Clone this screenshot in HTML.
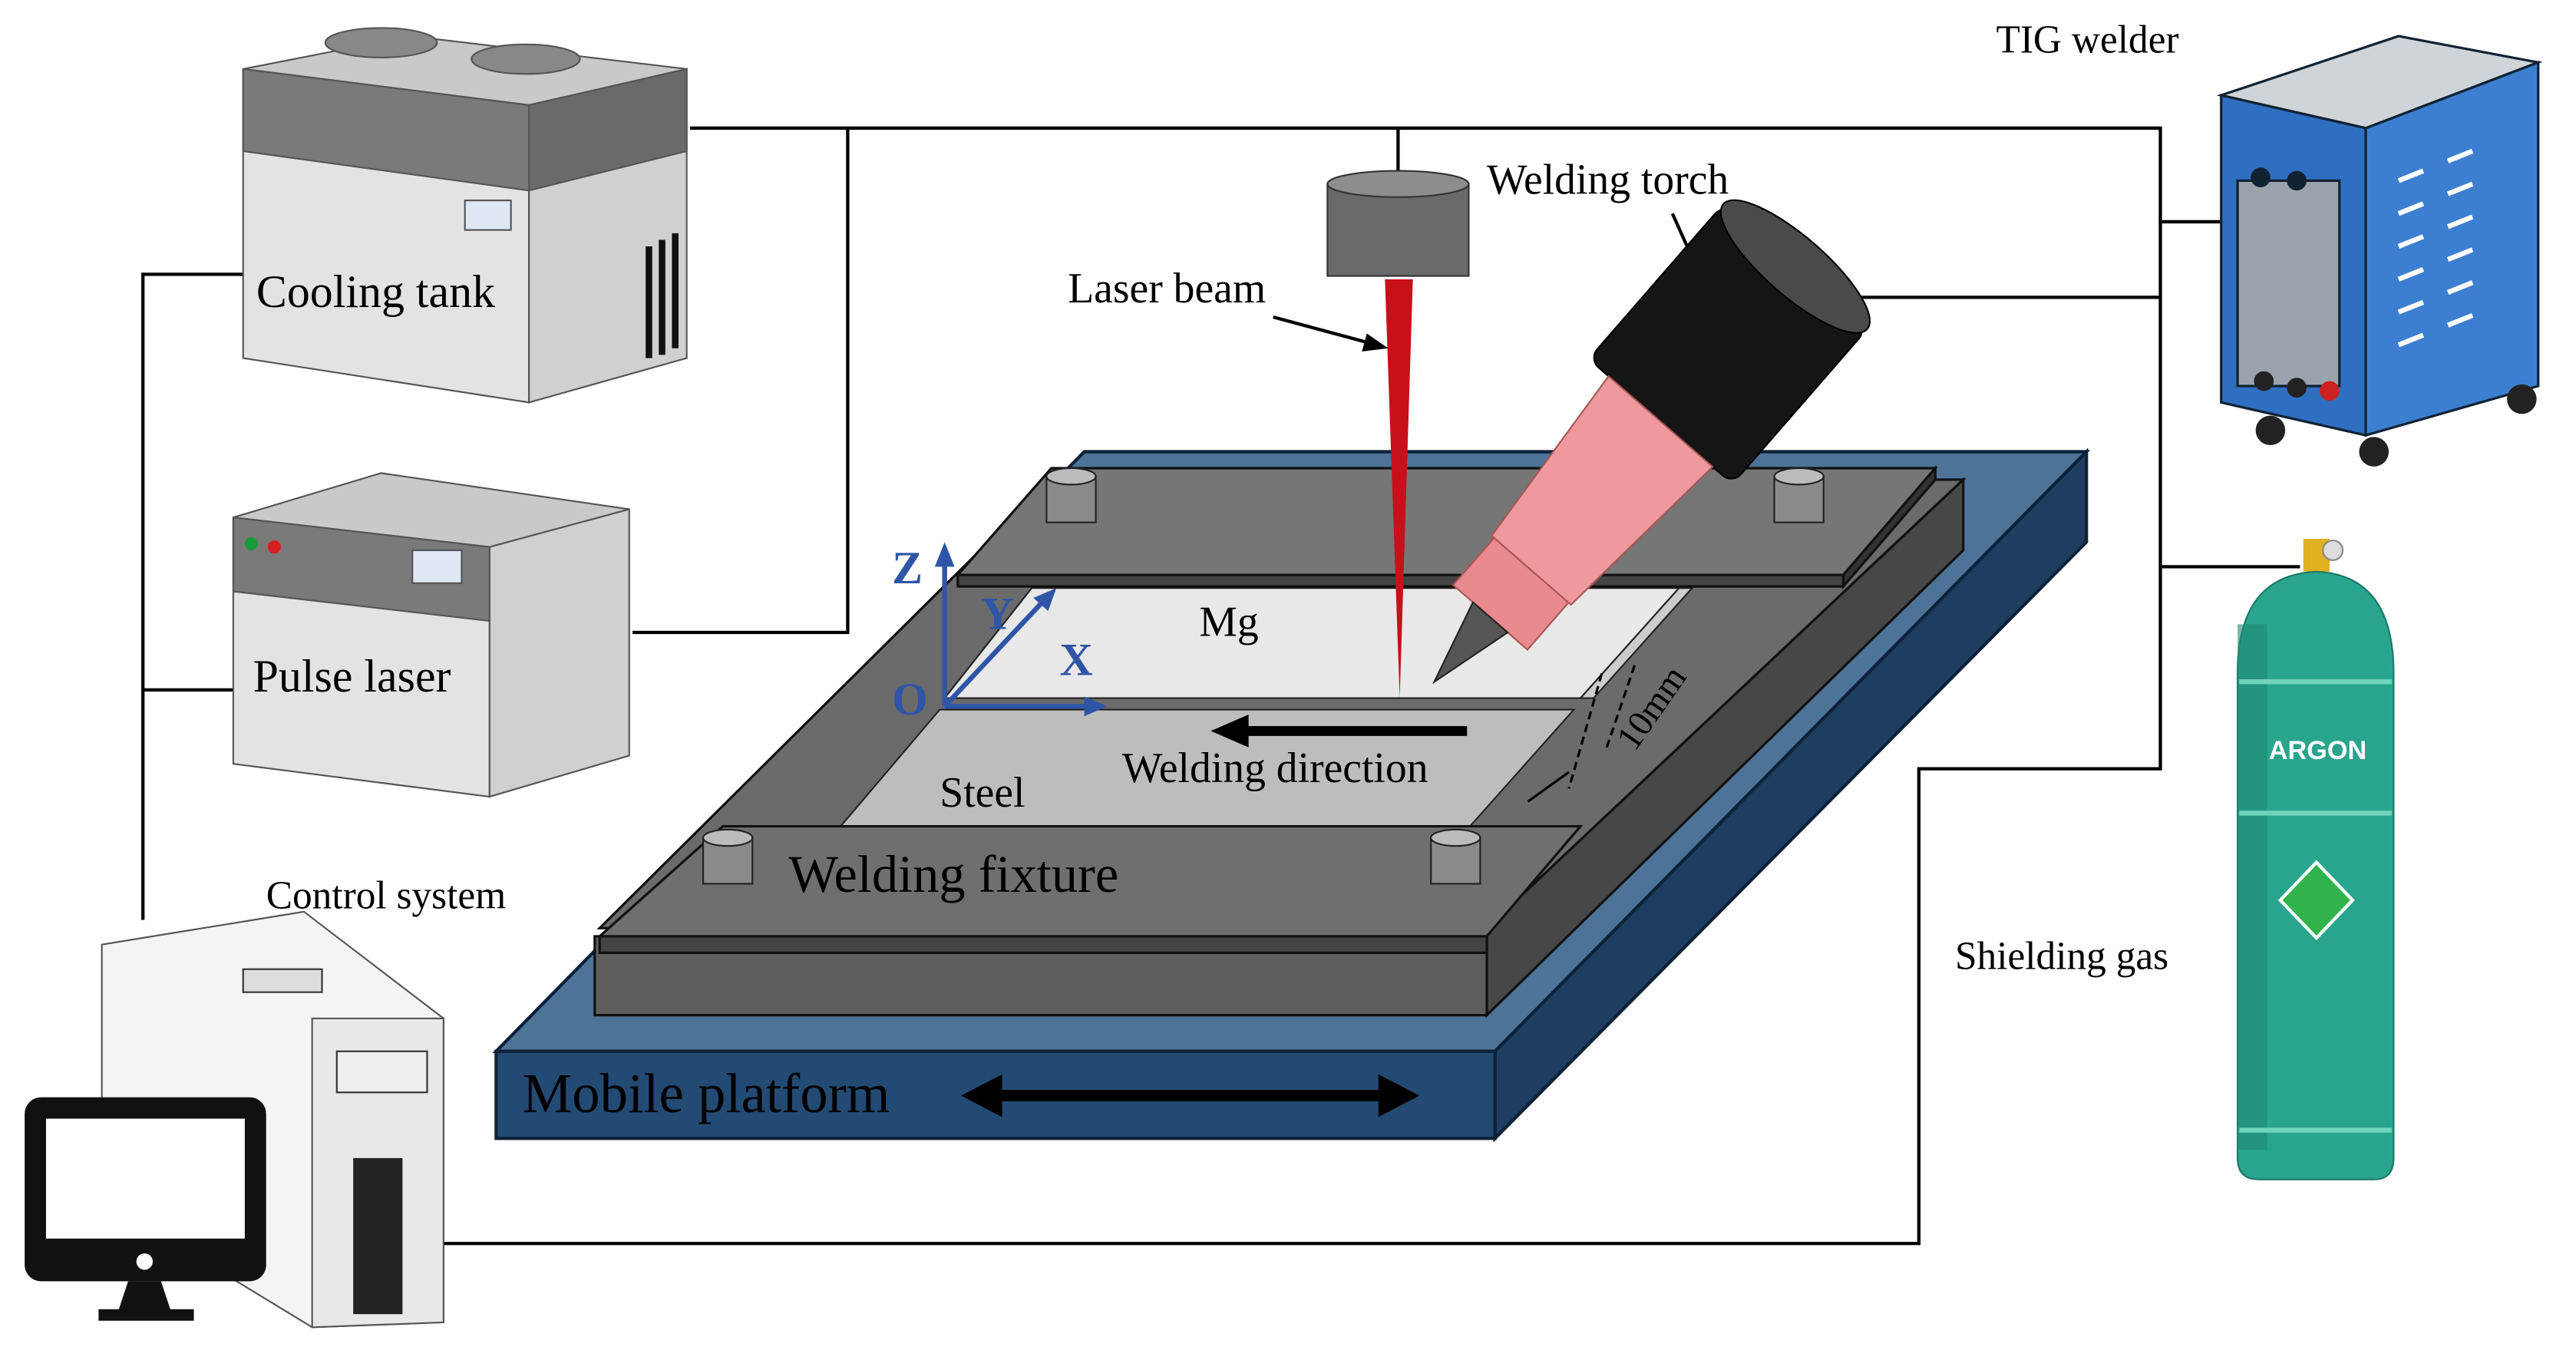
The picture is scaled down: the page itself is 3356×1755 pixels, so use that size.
<!DOCTYPE html>
<html><head><meta charset="utf-8">
<style>
html,body{margin:0;padding:0;background:#fff;}
svg{display:block;}
text{font-family:"Liberation Serif",serif;fill:#000;}
</style></head>
<body>
<svg width="3356" height="1755" viewBox="0 0 1568 820" preserveAspectRatio="none" xmlns="http://www.w3.org/2000/svg">
<rect width="1568" height="820" fill="#fff"/>
<!-- connector lines -->
<g stroke="#000" stroke-width="2" fill="none">
<polyline points="420,78 1315,78 1315,135 1352,135"/>
<polyline points="516,78 516,385 385,385"/>
<line x1="851" y1="78" x2="851" y2="108"/>
<line x1="1100" y1="181" x2="1315" y2="181"/>
<polyline points="1315,135 1315,468 1168,468 1168,757 270,757"/>
<line x1="1315" y1="345" x2="1400" y2="345"/>
<polyline points="148,167 87,167 87,560"/>
<line x1="87" y1="420" x2="142" y2="420"/>
</g>

<!-- cooling tank -->
<g stroke="#555" stroke-width="1">
<polygon points="148,42 250,22 418,42 322,64" fill="#c9c9c9"/>
<polygon points="148,42 322,64 322,245 148,218" fill="#e3e3e3"/>
<polygon points="322,64 418,42 418,218 322,245" fill="#d0d0d0"/>
<polygon points="148,42 322,64 322,116 148,92" fill="#7a7a7a"/>
<polygon points="322,64 418,42 418,92 322,116" fill="#6a6a6a"/>
<ellipse cx="232" cy="26" rx="34" ry="9" fill="#888"/>
<ellipse cx="320" cy="36" rx="33" ry="9" fill="#888"/>
<rect x="283" y="122" width="28" height="18" fill="#dfe8f5" stroke="#555"/>
</g>
<g fill="#111"><rect x="393" y="150" width="4" height="68"/><rect x="401" y="146" width="4" height="70"/><rect x="409" y="142" width="4" height="70"/></g>
<text x="156" y="187" font-size="28">Cooling tank</text>

<!-- pulse laser -->
<g stroke="#555" stroke-width="1">
<polygon points="142,315 232,288 383,310 298,333" fill="#c9c9c9"/>
<polygon points="142,315 298,333 298,485 142,465" fill="#e3e3e3"/>
<polygon points="298,333 383,310 383,460 298,485" fill="#d0d0d0"/>
<polygon points="142,315 298,333 298,378 142,360" fill="#7a7a7a"/>
<rect x="251" y="335" width="30" height="20" fill="#dfe8f5"/>
</g>
<circle cx="153" cy="331" r="4" fill="#1a9b3a"/><circle cx="167" cy="333" r="4" fill="#d42020"/>
<text x="154" y="421" font-size="28">Pulse laser</text>

<!-- mobile platform -->
<g stroke="#0d2238" stroke-width="2">
<polygon points="660,275 1270,275 910,640 302,640" fill="#4d7398"/>
<polygon points="910,640 1270,275 1270,330 910,693" fill="#1d3e60"/>
<rect x="302" y="640" width="608" height="53" fill="#234a73"/>
</g>
<text x="318" y="677" font-size="34">Mobile platform</text>
<line x1="605" y1="667" x2="845" y2="667" stroke="#000" stroke-width="7"/>
<polygon points="585,667 610,654 610,680" fill="#000"/>
<polygon points="864,667 839,654 839,680" fill="#000"/>

<!-- fixture base plate -->
<g stroke="#111" stroke-width="1.5">
<polygon points="640,292 1195,292 905,565 365,565" fill="#6b6b6b"/>
<polygon points="905,565 1195,292 1195,335 905,618" fill="#474747"/>
<rect x="362" y="570" width="543" height="48" fill="#5e5e5e"/>
</g>
<!-- workpieces -->
<g stroke="#222" stroke-width="1">
<polygon points="628,358 1022,358 962,425 575,425" fill="#e8e8e8"/>
<polygon points="572,432 958,432 893,505 510,505" fill="#bdbdbd"/>
<polygon points="1022,358 1030,358 970,425 962,425" fill="#ccc"/>
</g>
<!-- rear clamp -->
<g stroke="#111" stroke-width="1.5">
<polygon points="640,285 1178,285 1122,350 583,350" fill="#767676"/>
<polygon points="583,350 1122,350 1122,357 583,357" fill="#444"/>
<polygon points="1122,350 1178,285 1178,292 1122,357" fill="#333"/>
</g>
<!-- front clamp -->
<g stroke="#111" stroke-width="1.5">
<polygon points="440,503 962,503 905,570 365,570" fill="#6f6f6f"/>
<polygon points="365,570 905,570 905,580 365,580" fill="#444"/>
</g>
<!-- bolts -->
<g stroke="#222" stroke-width="1" fill="#8a8a8a">
<rect x="637" y="290" width="30" height="28"/><ellipse cx="652" cy="290" rx="15" ry="5" fill="#bbb"/>
<rect x="1080" y="290" width="30" height="28"/><ellipse cx="1095" cy="290" rx="15" ry="5" fill="#bbb"/>
<rect x="428" y="510" width="30" height="28"/><ellipse cx="443" cy="510" rx="15" ry="5" fill="#bbb"/>
<rect x="871" y="510" width="30" height="28"/><ellipse cx="886" cy="510" rx="15" ry="5" fill="#bbb"/>
</g>
<text x="480" y="543" font-size="32">Welding fixture</text>
<text x="730" y="387" font-size="26">Mg</text>
<text x="572" y="491" font-size="26">Steel</text>
<text x="683" y="476" font-size="26">Welding direction</text>
<line x1="893" y1="445" x2="755" y2="445" stroke="#000" stroke-width="6"/>
<polygon points="737,445 760,435 760,455" fill="#000"/>
<!-- 10mm -->
<g stroke="#000" stroke-width="1.5" stroke-dasharray="5,3">
<line x1="975" y1="410" x2="955" y2="480"/><line x1="995" y1="405" x2="978" y2="455"/>
</g>
<line x1="930" y1="488" x2="955" y2="470" stroke="#000" stroke-width="1.5"/>
<text x="0" y="0" font-size="22" transform="translate(995,458) rotate(-55)">10mm</text>

<!-- axes -->
<g stroke="#2f55a6" stroke-width="3" fill="#2f55a6">
<line x1="575" y1="430" x2="575" y2="342"/><polygon points="575,330 569,345 581,345" stroke="none"/>
<line x1="575" y1="430" x2="662" y2="430"/><polygon points="674,430 660,424 660,436" stroke="none"/>
<line x1="575" y1="430" x2="635" y2="366"/><polygon points="643,358 629,364 638,372" stroke="none"/>
</g>
<g font-size="28" font-weight="bold" style="fill:#2f55a6">
<text x="543" y="355" style="fill:#2f55a6">Z</text><text x="597" y="383" style="fill:#2f55a6">Y</text>
<text x="645" y="411" style="fill:#2f55a6">X</text><text x="543" y="435" style="fill:#2f55a6">O</text>
</g>

<!-- laser head + beam -->
<rect x="808" y="112" width="86" height="56" fill="#6a6a6a" stroke="#333"/>
<ellipse cx="851" cy="112" rx="43" ry="8" fill="#8d8d8d" stroke="#333"/>
<polygon points="843,170 860,170 852,425" fill="#c8101a"/>
<text x="650" y="184" font-size="26">Laser beam</text>
<line x1="775" y1="193" x2="838" y2="210" stroke="#000" stroke-width="2"/>
<polygon points="845,212 832,203 829,214" fill="#000"/>
<text x="905" y="118" font-size="26">Welding torch</text>
<line x1="1018" y1="130" x2="1035" y2="168" stroke="#000" stroke-width="2"/>
<polygon points="1038,177 1030,163 1040,161" fill="#000"/>

<!-- torch -->
<g transform="translate(1060,200) rotate(41)">
<rect x="-58" y="-50" width="116" height="125" rx="8" fill="#151515" stroke="#000"/>
<ellipse cx="0" cy="-50" rx="58" ry="18" fill="#4a4a4a" stroke="#000"/>
<polygon points="-42,75 42,75 32,195 -32,195" fill="#ee9a9d" stroke="#a55" stroke-width="1"/>
<rect x="-30" y="195" width="60" height="38" fill="#e98a8e" stroke="#a55"/>
<polygon points="-14,233 14,233 0,285" fill="#555" stroke="#222"/>
</g>

<!-- TIG welder -->
<text x="1215" y="32" font-size="24">TIG welder</text>
<g stroke="#123" stroke-width="1.5">
<polygon points="1352,58 1440,78 1545,38 1460,22" fill="#cfd4d8"/>
<polygon points="1352,58 1440,78 1440,265 1352,245" fill="#2f6fc2"/>
<polygon points="1440,78 1545,38 1545,235 1440,265" fill="#3c7fd0"/>
<rect x="1362" y="110" width="62" height="125" fill="#9aa3ad"/>
</g>
<g stroke="#fff" stroke-width="3">
<line x1="1460" y1="110" x2="1475" y2="104"/><line x1="1490" y1="98" x2="1505" y2="92"/>
<line x1="1460" y1="130" x2="1475" y2="124"/><line x1="1490" y1="118" x2="1505" y2="112"/>
<line x1="1460" y1="150" x2="1475" y2="144"/><line x1="1490" y1="138" x2="1505" y2="132"/>
<line x1="1460" y1="170" x2="1475" y2="164"/><line x1="1490" y1="158" x2="1505" y2="152"/>
<line x1="1460" y1="190" x2="1475" y2="184"/><line x1="1490" y1="178" x2="1505" y2="172"/>
<line x1="1460" y1="210" x2="1475" y2="204"/><line x1="1490" y1="198" x2="1505" y2="192"/>
</g>
<g fill="#222"><circle cx="1382" cy="262" r="9"/><circle cx="1445" cy="275" r="9"/><circle cx="1535" cy="243" r="9"/>
<circle cx="1378" cy="232" r="6"/><circle cx="1398" cy="236" r="6"/></g>
<circle cx="1418" cy="238" r="6" fill="#c22"/>
<circle cx="1376" cy="108" r="6" fill="#123"/><circle cx="1398" cy="110" r="6" fill="#123"/>

<!-- gas bottle -->
<rect x="1402" y="328" width="16" height="20" fill="#e0b020"/>
<circle cx="1420" cy="335" r="6" fill="#ddd" stroke="#888"/>
<path d="M1362,410 Q1362,350 1410,348 Q1457,350 1457,410 L1457,705 Q1457,718 1445,718 L1375,718 Q1362,718 1362,705 Z" fill="#2aa58d" stroke="#1c7a68"/>
<rect x="1362" y="380" width="18" height="320" fill="#1f8a75" opacity="0.6"/>
<g stroke="#6fd3bd" stroke-width="3"><line x1="1363" y1="415" x2="1456" y2="415"/><line x1="1363" y1="495" x2="1456" y2="495"/><line x1="1363" y1="688" x2="1456" y2="688"/></g>
<text x="1381" y="462" font-size="16" font-weight="bold" style="font-family:'Liberation Sans',sans-serif;fill:#fff">ARGON</text>
<polygon points="1410,525 1432,548 1410,571 1388,548" fill="#2fb34a" stroke="#fff" stroke-width="2"/>
<text x="1190" y="590" font-size="24">Shielding gas</text>

<!-- computer -->
<text x="162" y="553" font-size="24">Control system</text>
<polygon points="62,575 185,555 270,620 270,805 190,808 62,730" fill="#f4f4f4" stroke="#555"/>
<polygon points="190,620 270,620 270,805 190,808" fill="#e8e8e8" stroke="#555"/>
<rect x="148" y="590" width="48" height="14" fill="#ddd" stroke="#333"/>
<rect x="205" y="640" width="55" height="25" fill="#eee" stroke="#333"/>
<rect x="215" y="705" width="30" height="95" fill="#222"/>
<rect x="15" y="668" width="147" height="112" rx="10" fill="#111"/>
<rect x="28" y="681" width="121" height="73" fill="#fff"/>
<circle cx="88" cy="768" r="5" fill="#fff"/>
<polygon points="78,780 98,780 104,798 72,798" fill="#111"/>
<rect x="60" y="797" width="58" height="7" fill="#111"/>
</svg>
</body></html>
